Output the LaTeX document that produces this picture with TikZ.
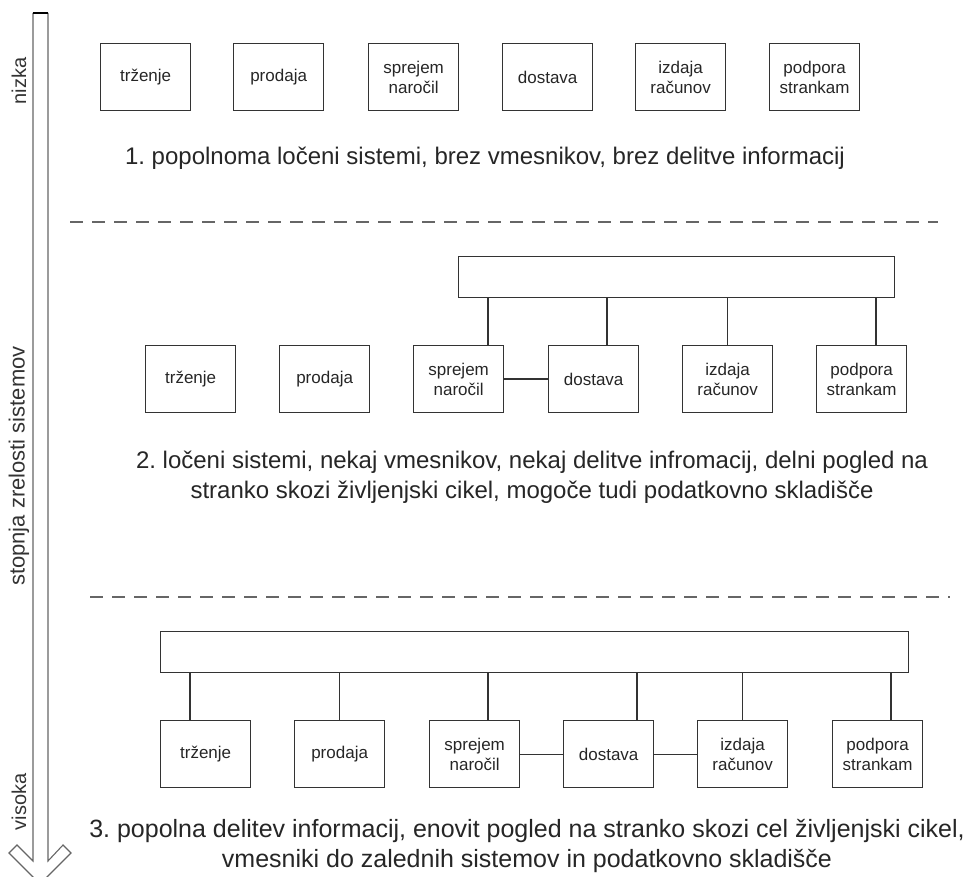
\documentclass[tikz,border=0pt]{standalone}
\usepackage{fontspec}
\setmainfont{Liberation Sans}
\frenchspacing
\begin{document}
\begin{tikzpicture}[x=1pt,y=-1pt,
  sysbox/.style={draw=black!80, line width=1.3pt, minimum width=90pt, minimum height=67pt,
    inner sep=0pt, align=center, anchor=north west, font=\fontsize{17}{20}\selectfont, text=black!85},
  bus/.style={draw=black!80, line width=1.3pt, inner sep=0pt, anchor=north west},
  link/.style={draw=black!80, line width=1.3pt},
  sep/.style={draw=black!60, line width=1.2pt, dash pattern=on 13pt off 9pt},
  caption/.style={font=\fontsize{24}{30}\selectfont, align=center, text=black!85},
  sidelbl/.style={rotate=90, text=black!80},
  scale arrow/.style={draw=black!60, line width=1.1pt, line join=miter}]
\useasboundingbox (0,0) rectangle (978,877);

% maturity arrow on the left
\draw[scale arrow] (33,13) -- (33,861) -- (17,845) -- (9,853) -- (40,884)
  -- (71,853) -- (63,845) -- (48,861) -- (48,13);
\draw[black, line width=1.4pt] (33,13) -- (48,13);
\node[sidelbl, font=\fontsize{20}{24}\selectfont] (low) at (19,81) {nizka};
\node[sidelbl, font=\fontsize{22}{26}\selectfont] (axis) at (19,466) {stopnja zrelosti sistemov};
\node[sidelbl, font=\fontsize{20}{24}\selectfont] (high) at (19,802) {visoka};

% level 1: isolated systems
\node[sysbox] (a1) at (100,43) {trženje};
\node[sysbox] (a2) at (233,43) {prodaja};
\node[sysbox] (a3) at (368,43) {sprejem\\naročil};
\node[sysbox] (a4) at (502,43) {dostava};
\node[sysbox] (a5) at (635,43) {izdaja\\računov};
\node[sysbox] (a6) at (769,43) {podpora\\strankam};
\node[caption] (cap1) at (485,158) {1. popolnoma ločeni sistemi, brez vmesnikov, brez delitve informacij};

\coordinate (s1a) at (70,222);
\coordinate (s1b) at (938,222);
\draw[sep] (s1a) -- (s1b);

% level 2: partly connected systems
\node[bus, minimum width=436pt, minimum height=41pt] (bus2) at (458,256) {};
\node[sysbox] (b1) at (145,345) {trženje};
\node[sysbox] (b2) at (279,345) {prodaja};
\node[sysbox] (b3) at (413,345) {sprejem\\naročil};
\node[sysbox] (b4) at (548,345) {dostava};
\node[sysbox] (b5) at (682,345) {izdaja\\računov};
\node[sysbox] (b6) at (816,345) {podpora\\strankam};
\draw[link] ([xshift=75pt]b3.north west) -- ([xshift=75pt]b3.north west |- bus2.south);
\draw[link] ([xshift=59pt]b4.north west) -- ([xshift=59pt]b4.north west |- bus2.south);
\draw[link] (b5.north) -- (b5.north |- bus2.south);
\draw[link] ([xshift=60pt]b6.north west) -- ([xshift=60pt]b6.north west |- bus2.south);
\draw[link] (b3.east) -- (b4.west);
\node[caption] (cap2) at (532,477) {2. ločeni sistemi, nekaj vmesnikov, nekaj delitve infromacij, delni pogled na\\stranko skozi življenjski cikel, mogoče tudi podatkovno skladišče};

\coordinate (s2a) at (90,597);
\coordinate (s2b) at (950,597);
\draw[sep] (s2a) -- (s2b);

% level 3: fully integrated systems
\node[bus, minimum width=748pt, minimum height=41pt] (bus3) at (160,631) {};
\node[sysbox] (c1) at (160,720) {trženje};
\node[sysbox] (c2) at (294,720) {prodaja};
\node[sysbox] (c3) at (429,720) {sprejem\\naročil};
\node[sysbox] (c4) at (563,720) {dostava};
\node[sysbox] (c5) at (697,720) {izdaja\\računov};
\node[sysbox] (c6) at (832,720) {podpora\\strankam};
\draw[link] ([xshift=30pt]c1.north west) -- ([xshift=30pt]c1.north west |- bus3.south);
\draw[link] (c2.north) -- (c2.north |- bus3.south);
\draw[link] ([xshift=59pt]c3.north west) -- ([xshift=59pt]c3.north west |- bus3.south);
\draw[link] ([xshift=74pt]c4.north west) -- ([xshift=74pt]c4.north west |- bus3.south);
\draw[link] (c5.north) -- (c5.north |- bus3.south);
\draw[link] ([xshift=59pt]c6.north west) -- ([xshift=59pt]c6.north west |- bus3.south);
\draw[link] (c3.east) -- (c4.west);
\draw[link] (c4.east) -- (c5.west);
\node[caption, font=\fontsize{25}{30}\selectfont] (cap3) at (527,846) {3. popolna delitev informacij, enovit pogled na stranko skozi cel življenjski cikel,\\vmesniki do zalednih sistemov in podatkovno skladišče};
\end{tikzpicture}
\end{document}
